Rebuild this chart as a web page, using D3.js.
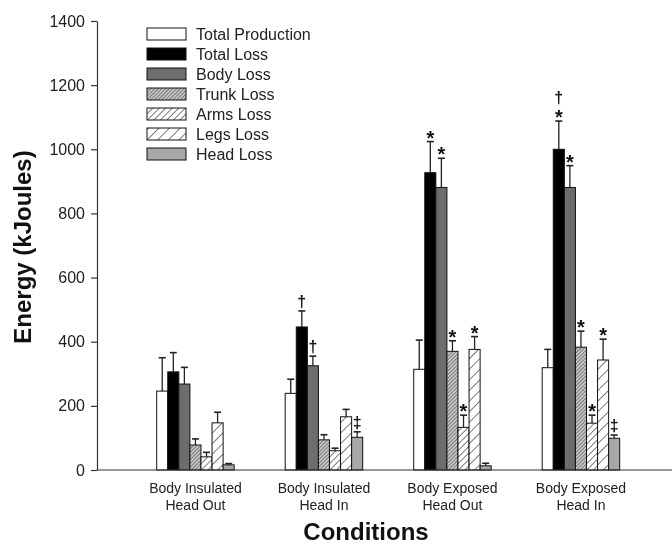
<!DOCTYPE html>
<html>
<head>
<meta charset="utf-8">
<script src="https://cdn.jsdelivr.net/npm/d3@7"></script>
<style>
  html, body { margin: 0; padding: 0; background: #fff; }
  svg { display: block; font-family: "Liberation Sans", Arial, Helvetica, sans-serif; will-change: transform; }
</style>
</head>
<body>
<svg id="chart" width="672" height="544"></svg>
<script>
// ---- data ----
const conditions = [["Body Insulated", "Head Out"], ["Body Insulated", "Head In"], ["Body Exposed", "Head Out"], ["Body Exposed", "Head In"]];
const seriesNames = ["Total Production", "Total Loss", "Body Loss", "Trunk Loss", "Arms Loss", "Legs Loss", "Head Loss"];
const totalProduction = [246, 239, 314, 319];
const totalLoss       = [306, 446, 927, 1000];
const bodyLoss        = [268, 325, 881, 881];
const trunkLoss       = [78, 94, 370, 383];
const armsLoss        = [41, 60, 133, 146];
const legsLoss        = [147, 166, 376, 343];
const headLoss        = [16, 102, 13, 99];
const totalProductionErr = [104, 44, 91, 57];
const totalLossErr       = [60, 50, 97, 88];
const bodyLossErr        = [52, 30, 91, 68];
const trunkLossErr       = [19, 16, 33, 50];
const armsLossErr        = [14, 8, 38, 25];
const legsLossErr        = [33, 23, 40, 65];
const headLossErr        = [4, 17, 8, 10];
const yTicks = [0, 200, 400, 600, 800, 1000, 1200, 1400];
// significance marks: [condition index, series index, symbols from bottom to top]
const marks = [
  [1, 1, ["†"]], [1, 2, ["†"]], [1, 6, ["‡"]],
  [2, 1, ["*"]], [2, 2, ["*"]], [2, 3, ["*"]], [2, 4, ["*"]], [2, 5, ["*"]],
  [3, 1, ["*", "†"]], [3, 2, ["*"]], [3, 3, ["*"]], [3, 4, ["*"]], [3, 5, ["*"]], [3, 6, ["‡"]]
];

const values = [totalProduction, totalLoss, bodyLoss, trunkLoss, armsLoss, legsLoss, headLoss];
const errors = [totalProductionErr, totalLossErr, bodyLossErr, trunkLossErr, armsLossErr, legsLossErr, headLossErr];

// ---- layout ----
const svg = d3.select("#chart");
const axisX = 97, y0px = 470, yTop = 21;

const defs = svg.append("defs");
function hatch(id, bg, stroke, spacing, sw) {
  const p = defs.append("pattern").attr("id", id)
    .attr("patternUnits", "userSpaceOnUse")
    .attr("width", spacing).attr("height", spacing)
    .attr("patternTransform", "rotate(45)");
  p.append("rect").attr("width", spacing).attr("height", spacing).attr("fill", bg);
  p.append("line").attr("x1", 0).attr("y1", 0).attr("x2", 0).attr("y2", spacing)
    .attr("stroke", stroke).attr("stroke-width", sw);
}
hatch("pTrunk", "#c4c4c4", "#3a3a3a", 2.6, 1);
hatch("pArms", "#ffffff", "#111", 4.6, 1.1);
hatch("pLegs", "#ffffff", "#111", 7.5, 1.1);

const fills = ["#ffffff", "#000000", "#6d6d6d", "url(#pTrunk)", "url(#pArms)", "url(#pLegs)", "#a8a8a8"];

const y = d3.scaleLinear().domain([0, 1400]).range([y0px, yTop]);
const x = d3.scaleBand().domain(d3.range(conditions.length))
  .range([156.7, 619.7]).paddingInner(0.397).paddingOuter(0);
const xs = d3.scaleBand().domain(d3.range(seriesNames.length)).range([0, x.bandwidth()]);

// bars
const groups = svg.append("g").selectAll("g").data(conditions).join("g")
  .attr("transform", (d, i) => `translate(${x(i)},0)`);

groups.each(function(c, ci) {
  const g = d3.select(this);
  seriesNames.forEach((s, si) => {
    const v = values[si][ci], e = errors[si][ci];
    const bx = xs(si), bw = xs.bandwidth();
    const cx = bx + bw / 2;
    g.append("line").attr("x1", cx).attr("x2", cx).attr("y1", y(v)).attr("y2", y(v + e))
      .attr("stroke", "#222").attr("stroke-width", 1.3);
    g.append("line").attr("x1", cx - 3.5).attr("x2", cx + 3.5).attr("y1", y(v + e)).attr("y2", y(v + e))
      .attr("stroke", "#222").attr("stroke-width", 1.6);
    g.append("rect").attr("x", bx).attr("y", y(v)).attr("width", bw).attr("height", y0px - y(v))
      .attr("fill", fills[si]).attr("stroke", "#111").attr("stroke-width", 1);
  });
});

// significance marks
marks.forEach(([ci, si, syms]) => {
  const cx = x(ci) + xs(si) + xs.bandwidth() / 2;
  let top = y(values[si][ci] + errors[si][ci]);
  syms.forEach((sym) => {
    if (sym === "*") {
      svg.append("text").attr("x", cx).attr("y", top + 3).attr("text-anchor", "middle")
        .attr("font-size", 20).attr("font-weight", "bold")
        .attr("fill", "#111").text(sym);
      top -= 14;
    } else {
      svg.append("text").attr("x", cx).attr("y", top - 4).attr("text-anchor", "middle")
        .attr("font-size", 16).attr("font-weight", "bold")
        .attr("fill", "#111").text(sym);
      top -= 16;
    }
  });
});

// y axis
const yAxis = d3.axisLeft(y).tickValues(yTicks).tickFormat(d3.format("d"))
  .tickSize(6).tickSizeOuter(0).tickPadding(6);
const ya = svg.append("g").attr("transform", `translate(${axisX},0)`).call(yAxis);
ya.select(".domain").attr("stroke", "#333").attr("stroke-width", 1.2);
ya.selectAll(".tick line").attr("stroke", "#333").attr("stroke-width", 1.2);
ya.selectAll(".tick text").attr("font-size", 16).attr("fill", "#222")
  .attr("font-family", "Liberation Sans, Arial, sans-serif");

// x baseline
svg.append("line").attr("x1", axisX).attr("x2", 672).attr("y1", y0px).attr("y2", y0px)
  .attr("stroke", "#333").attr("stroke-width", 1.2);

// x category labels
conditions.forEach((lines, i) => {
  const t = svg.append("text").attr("x", x(i) + x.bandwidth() / 2).attr("y", 493)
    .attr("text-anchor", "middle").attr("font-size", 14).attr("fill", "#222");
  lines.forEach((l, k) => t.append("tspan").attr("x", x(i) + x.bandwidth() / 2).attr("dy", k ? 16.5 : 0).text(l));
});

// axis titles
svg.append("text").attr("x", 366).attr("y", 540).attr("text-anchor", "middle")
  .attr("font-size", 24).attr("font-weight", "bold").attr("fill", "#111").text("Conditions");
svg.append("text").attr("transform", "translate(31,247) rotate(-90)").attr("text-anchor", "middle")
  .attr("font-size", 24).attr("font-weight", "bold").attr("fill", "#111").text("Energy (kJoules)");

// legend
const lg = svg.append("g");
seriesNames.forEach((s, i) => {
  const cy = 34 + i * 20;
  lg.append("rect").attr("x", 147).attr("y", cy - 6).attr("width", 39).attr("height", 12)
    .attr("fill", fills[i]).attr("stroke", "#111").attr("stroke-width", 1);
  lg.append("text").attr("x", 196).attr("y", cy + 5.5).attr("font-size", 16).attr("fill", "#222").text(s);
});
</script>
</body>
</html>
